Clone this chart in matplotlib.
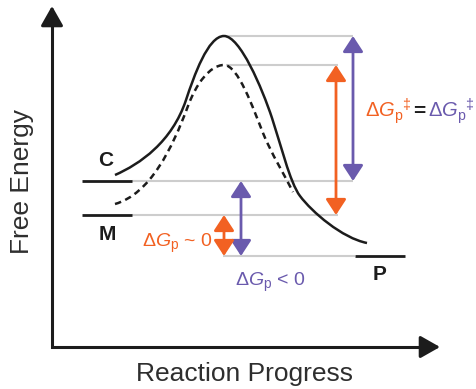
import matplotlib
matplotlib.use('Agg')
import matplotlib.pyplot as plt
from matplotlib.path import Path
from matplotlib.patches import PathPatch

plt.rcParams['font.family'] = ['Liberation Sans', 'DejaVu Sans']
plt.rcParams['mathtext.fontset'] = 'custom'
plt.rcParams['mathtext.rm'] = 'Liberation Sans'
plt.rcParams['mathtext.it'] = 'Liberation Sans:italic'
plt.rcParams['mathtext.bf'] = 'Liberation Sans:bold'

# Free energy levels (arbitrary units)
level_names = ['C', 'M', 'P']
level_energy = [16.6, 13.2, 9.1]
level_start = [3.0, 3.0, 30.3]
level_end = [8.0, 8.0, 35.3]
ts_energy_c = 31.1
ts_energy_m = 28.2

# Energy profiles: cubic Bezier chains
# (start point, then two handles and an end point per segment)
solid_x = [6.3, 8.8, 12.0, 13.4, 14.2, 15.6, 17.2, 18.8, 21.0, 22.0,
           22.8, 23.8, 24.8, 26.0, 29.0, 31.5]
solid_y = [17.2, 18.3, 20.5, 24.7, 27.1, 31.1, 31.1, 31.1, 25.9, 22.9,
           20.5, 16.4, 15.1, 13.5, 10.9, 10.4]
dashed_x = [6.3, 9.8, 12.0, 13.6, 14.4, 15.8, 17.2, 18.6, 20.1, 21.1,
            21.9, 23.3, 24.1]
dashed_y = [14.3, 15.3, 19.8, 24.1, 26.3, 28.2, 28.2, 28.2, 23.9, 21.4,
            19.4, 17.1, 15.5]

orange = '#f26122'
purple = '#6a5aad'
gray = '#cdcdcd'
ink = '#1c1c1c'
label_ink = '#2e2e2e'


def bezier_chain(xs, ys):
    codes = [Path.MOVETO] + [Path.CURVE4] * (len(xs) - 1)
    return Path(list(zip(xs, ys)), codes)


fig = plt.figure(figsize=(4.77, 3.89), dpi=100)
ax = fig.add_axes([52 / 477, 42 / 389, 425 / 477, 347 / 389])
ax.set_xlim(0, 42.5)
ax.set_ylim(0, 34.7)
ax.axis('off')

# Gray guide lines
guides = [
    (17.4, 30.1, ts_energy_c),
    (17.4, 28.6, ts_energy_m),
    (level_end[0], 30.1, level_energy[0]),
    (level_end[1], 28.6, level_energy[1]),
    (17.1, level_start[2], level_energy[2]),
]
for x0, x1, e in guides:
    ax.plot([x0, x1], [e, e], color=gray, lw=1.5, solid_capstyle='butt', zorder=1)

# Energy levels
for name, e, x0, x1 in zip(level_names, level_energy, level_start, level_end):
    ax.plot([x0, x1], [e, e], color=ink, lw=2.0, solid_capstyle='butt', zorder=3)

# Energy profiles
ax.add_patch(PathPatch(bezier_chain(solid_x, solid_y), fill=False,
                       edgecolor=ink, lw=1.8, zorder=3))
ax.add_patch(PathPatch(bezier_chain(dashed_x, dashed_y), fill=False,
                       edgecolor=ink, lw=1.8, linestyle=(0, (2.6, 1.8)),
                       zorder=3))

# Double-headed arrows
arrows = [
    (30.1, level_energy[0], ts_energy_c, purple),
    (28.4, level_energy[1], ts_energy_m, orange),
    (18.9, level_energy[2], level_energy[0], purple),
    (17.2, level_energy[2], level_energy[1], orange),
]
for x, e0, e1, c in arrows:
    ax.annotate('', xy=(x, e1), xytext=(x, e0),
                arrowprops=dict(arrowstyle='<|-|>,head_length=0.95,head_width=0.62',
                                mutation_scale=10, color=c, lw=2.0,
                                shrinkA=0, shrinkB=0), zorder=4)

# Axes with arrow heads
ax.plot([0, 0, 37.5], [33.0, 0, 0], color=ink, lw=2.2,
        solid_joinstyle='miter', solid_capstyle='butt', clip_on=False)
ax.annotate('', xy=(0, 34.1), xytext=(0, 32.5),
            arrowprops=dict(arrowstyle='-|>,head_length=1.2,head_width=0.68',
                            mutation_scale=10, color=ink, lw=2.2,
                            shrinkA=0, shrinkB=0), annotation_clip=False)
ax.annotate('', xy=(38.8, 0), xytext=(37.2, 0),
            arrowprops=dict(arrowstyle='-|>,head_length=1.2,head_width=0.68',
                            mutation_scale=10, color=ink, lw=2.2,
                            shrinkA=0, shrinkB=0), annotation_clip=False)

ax.text(-3.0, 16.5, 'Free Energy', rotation=90, ha='center', va='center',
        fontsize=19, color=label_ink, clip_on=False)
ax.text(19.3, -2.7, 'Reaction Progress', ha='center', va='center',
        fontsize=19, color=label_ink, clip_on=False)

# State labels
ax.text(5.4, 18.7, 'C', ha='center', va='center', fontsize=15,
        fontweight='bold', color=ink)
ax.text(5.5, 11.2, 'M', ha='center', va='center', fontsize=15,
        fontweight='bold', color=ink)
ax.text(32.8, 7.2, 'P', ha='center', va='center', fontsize=15,
        fontweight='bold', color=ink)

# Free energy annotations
ax.text(9.0, 10.0, r'$\Delta G_\mathrm{p}$ ~ 0', ha='left', va='baseline',
        fontsize=14, color=orange)
ax.text(18.3, 6.1, r'$\Delta G_\mathrm{p}$ < 0', ha='left', va='baseline',
        fontsize=14, color=purple)
for x0, c in [(31.3, orange), (37.6, purple)]:
    ax.text(x0, 23.0, r'$\Delta G_\mathrm{p}{}^{\ddagger}$', ha='left',
            va='baseline', fontsize=14.5, color=c, clip_on=False)
ax.text(36.7, 23.0, '=', ha='center', va='baseline', fontsize=15,
        fontweight='bold', color=ink, clip_on=False)

fig.savefig('out.png', dpi=100)
